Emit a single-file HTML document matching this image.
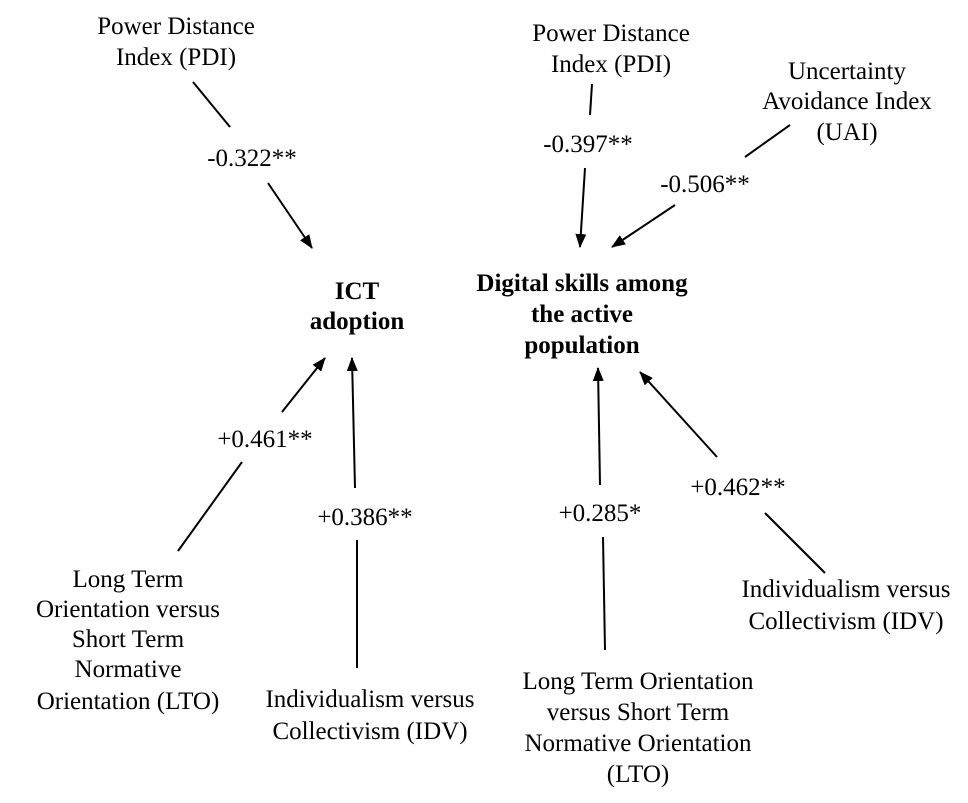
<!DOCTYPE html>
<html><head><meta charset="utf-8"><style>
html,body{margin:0;padding:0;background:#fff;}
svg{display:block;}
text{font-family:"Liberation Serif",serif;font-size:25px;fill:#000;text-anchor:middle;}
.b{font-weight:bold;}
line{stroke:#000;stroke-width:2;}
</style></head><body>
<svg width="968" height="803" viewBox="0 0 968 803" xmlns="http://www.w3.org/2000/svg">
<defs>
<marker id="a" markerWidth="14" markerHeight="11" refX="13" refY="5.5" orient="auto" markerUnits="userSpaceOnUse">
<path d="M0,0 L14,5.5 L0,11 z" fill="#000"/>
</marker>
</defs>
<text x="176" y="34">Power Distance</text>
<text x="176" y="65">Index (PDI)</text>
<line x1="193" y1="82" x2="230" y2="127"/>
<text x="252" y="166">-0.322**</text>
<line x1="268" y1="183" x2="312" y2="248" marker-end="url(#a)"/>
<text x="357" y="299" class="b">ICT</text>
<text x="357" y="329" class="b">adoption</text>
<text x="611" y="41">Power Distance</text>
<text x="611" y="72">Index (PDI)</text>
<line x1="592" y1="84" x2="590" y2="115"/>
<text x="588" y="152">-0.397**</text>
<line x1="585" y1="168" x2="580" y2="247" marker-end="url(#a)"/>
<text x="847" y="79">Uncertainty</text>
<text x="847" y="109">Avoidance Index</text>
<text x="847" y="140">(UAI)</text>
<line x1="790" y1="125" x2="745" y2="157"/>
<text x="705" y="192">-0.506**</text>
<line x1="675" y1="205" x2="612" y2="247" marker-end="url(#a)"/>
<text x="582" y="291" class="b">Digital skills among</text>
<text x="582" y="322" class="b">the active</text>
<text x="582" y="353" class="b">population</text>
<line x1="282" y1="412" x2="325" y2="358" marker-end="url(#a)"/>
<text x="265" y="447">+0.461**</text>
<line x1="178" y1="551" x2="242" y2="462"/>
<line x1="355" y1="488" x2="352" y2="358" marker-end="url(#a)"/>
<text x="365" y="525">+0.386**</text>
<line x1="357" y1="668" x2="357" y2="540"/>
<text x="128" y="587">Long Term</text>
<text x="128" y="617">Orientation versus</text>
<text x="128" y="647">Short Term</text>
<text x="128" y="677">Normative</text>
<text x="128" y="709">Orientation (LTO)</text>
<text x="370" y="707">Individualism versus</text>
<text x="370" y="739">Collectivism (IDV)</text>
<line x1="600" y1="485" x2="598" y2="368" marker-end="url(#a)"/>
<text x="600" y="521">+0.285*</text>
<line x1="603" y1="537" x2="605" y2="650"/>
<text x="638" y="689">Long Term Orientation</text>
<text x="638" y="720">versus Short Term</text>
<text x="638" y="751">Normative Orientation</text>
<text x="638" y="782">(LTO)</text>
<line x1="717" y1="457" x2="640" y2="372" marker-end="url(#a)"/>
<text x="738" y="495">+0.462**</text>
<line x1="765" y1="513" x2="825" y2="573"/>
<text x="846" y="597">Individualism versus</text>
<text x="846" y="629">Collectivism (IDV)</text>
</svg>
</body></html>
